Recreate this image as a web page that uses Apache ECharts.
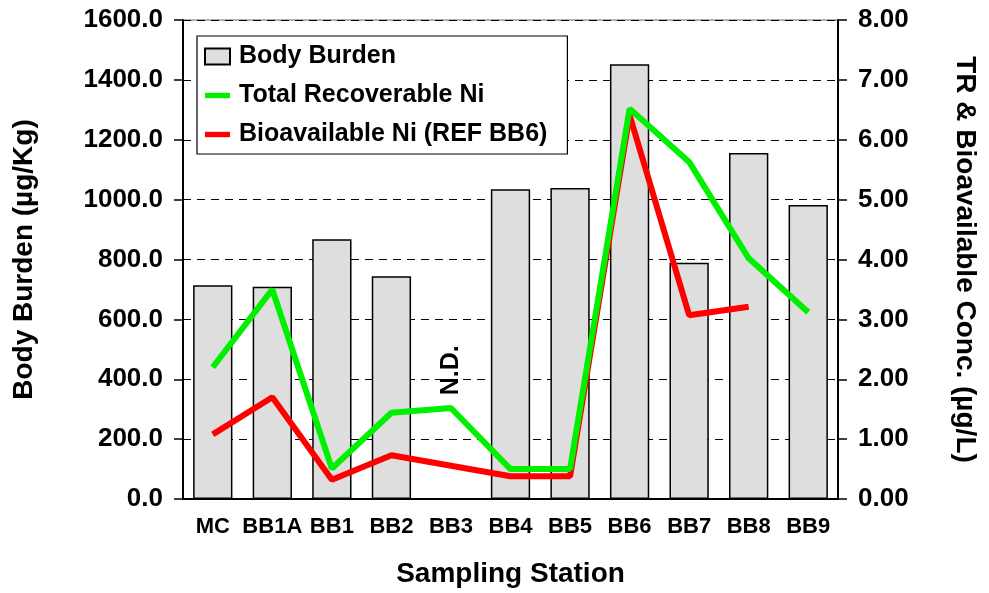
<!DOCTYPE html>
<html>
<head>
<meta charset="utf-8">
<script src="https://cdn.jsdelivr.net/npm/echarts@6/dist/echarts.min.js"></script>
<style>
    html, body { margin: 0; padding: 0; background: #fff; }
    #chart { width: 989px; height: 593px; }
</style>
</head>
<body>
<div id="chart"></div>
<script>
    // 采样站点
    var stations = ['MC', 'BB1A', 'BB1', 'BB2', 'BB3', 'BB4', 'BB5', 'BB6', 'BB7', 'BB8', 'BB9'];
    // Body Burden (µg/Kg), BB3 not detected
    var bodyBurden = [714, 709, 868, 744, null, 1035, 1039, 1452, 789, 1156, 982];
    // Total Recoverable Ni (µg/L)
    var totalNi = [2.20, 3.50, 0.51, 1.44, 1.52, 0.50, 0.50, 6.52, 5.63, 4.02, 3.12];
    // Bioavailable Ni (µg/L)
    var bioNi = [1.08, 1.70, 0.32, 0.73, null, 0.38, 0.38, 6.41, 3.07, 3.21, null];

    var font = 'Liberation Sans, Arial, sans-serif';
    var lineIcon = 'path://M0,0 L28,0 L28,6 L0,6 Z';

    var chart = echarts.init(document.getElementById('chart'));
    var option = {
        animation: false,
        textStyle: { fontFamily: font },
        grid: {
            left: 183,
            right: 151,
            top: 20,
            bottom: 94,
            show: true,
            borderColor: '#9a9a9a',
            borderWidth: 1.5
        },
        legend: {
            left: 197,
            top: 36,
            orient: 'vertical',
            padding: [8, 20, 7, 7],
            itemGap: 14,
            itemWidth: 25,
            itemHeight: 16,
            borderColor: '#000',
            borderWidth: 1.2,
            backgroundColor: '#fff',
            textStyle: { fontSize: 25, fontWeight: 'bold', color: '#000', fontFamily: font, padding: [0, 0, 0, 4] },
            data: [
                { name: 'Body Burden', icon: 'rect' },
                { name: 'Total Recoverable Ni', icon: lineIcon },
                { name: 'Bioavailable Ni (REF BB6)', icon: lineIcon }
            ]
        },
        xAxis: {
            type: 'category',
            data: stations,
            name: 'Sampling Station',
            nameLocation: 'middle',
            nameGap: 61,
            nameTextStyle: { fontSize: 28, fontWeight: 'bold', color: '#000' },
            axisLine: { lineStyle: { color: '#000', width: 2 } },
            axisTick: { alignWithLabel: true, length: 8, lineStyle: { color: '#000', width: 1.5 } },
            axisLabel: { interval: 0, fontSize: 22, fontWeight: 'bold', color: '#000', margin: 17 }
        },
        yAxis: [
            {
                type: 'value',
                min: 0,
                max: 1600,
                interval: 200,
                name: 'Body Burden (µg/Kg)',
                nameLocation: 'middle',
                nameRotate: 90,
                nameGap: 145,
                nameTextStyle: { fontSize: 28, fontWeight: 'bold', color: '#000' },
                axisLine: { show: true, lineStyle: { color: '#000', width: 2 } },
                axisTick: { show: true, length: 9, lineStyle: { color: '#000', width: 1.5 } },
                axisLabel: {
                    fontSize: 26, fontWeight: 'bold', color: '#000', margin: 20,
                    formatter: function (v) { return v.toFixed(1); }
                },
                splitLine: { show: true, lineStyle: { color: '#000', type: [8, 6], width: 1 } }
            },
            {
                type: 'value',
                min: 0,
                max: 8,
                interval: 1,
                name: 'TR & Bioavailable Conc. (µg/L)',
                nameLocation: 'middle',
                nameRotate: -90,
                nameGap: 113,
                nameTextStyle: { fontSize: 28, fontWeight: 'bold', color: '#000' },
                axisLine: { show: true, lineStyle: { color: '#000', width: 2 } },
                axisTick: { show: true, length: 9, lineStyle: { color: '#000', width: 1.5 } },
                axisLabel: {
                    fontSize: 26, fontWeight: 'bold', color: '#000', margin: 20,
                    formatter: function (v) { return v.toFixed(2); }
                },
                splitLine: { show: false }
            }
        ],
        series: [
            {
                name: 'Body Burden',
                type: 'bar',
                yAxisIndex: 0,
                barWidth: '66%',
                itemStyle: { color: '#dedede', borderColor: '#000', borderWidth: 1.5 },
                data: bodyBurden
            },
            {
                name: 'Total Recoverable Ni',
                type: 'line',
                yAxisIndex: 1,
                symbol: 'none',
                connectNulls: true,
                lineStyle: { color: '#00f000', width: 6 },
                itemStyle: { color: '#00f000' },
                data: totalNi,
                z: 3,
                // N.D. 标注
                markPoint: {
                    symbol: 'circle',
                    symbolSize: 1,
                    itemStyle: { color: 'rgba(0,0,0,0)' },
                    data: [{ coord: ['BB3', 2.15], value: 'N.D.' }],
                    label: {
                        show: true,
                        formatter: 'N.D.',
                        rotate: 90,
                        fontSize: 25,
                        fontWeight: 'bold',
                        color: '#000',
                        position: 'inside'
                    }
                }
            },
            {
                name: 'Bioavailable Ni (REF BB6)',
                type: 'line',
                yAxisIndex: 1,
                symbol: 'none',
                connectNulls: true,
                lineStyle: { color: '#ff0000', width: 6 },
                itemStyle: { color: '#ff0000' },
                data: bioNi,
                z: 2
            }
        ]
    };
    chart.setOption(option);
</script>
</body>
</html>
